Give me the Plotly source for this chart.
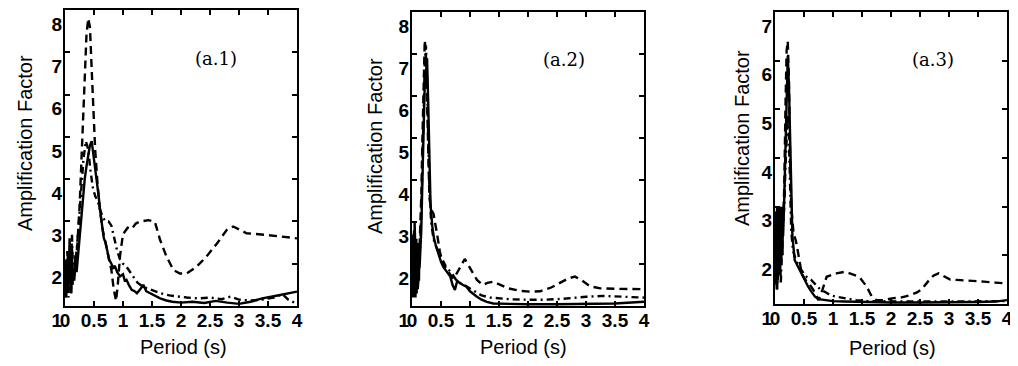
import plotly.graph_objects as go

# ---------------- data ----------------
X_TICKS = [0, 0.5, 1, 1.5, 2, 2.5, 3, 3.5, 4]
X_TICK_TEXT = ["0", "0.5", "1", "1.5", "2", "2.5", "3", "3.5", "4"]
Y_TICKS_A = [1, 2, 3, 4, 5, 6, 7, 8]
Y_TICKS_B = [1, 2, 3, 4, 5, 6, 7]
PANEL_LABELS = ["(a.1)", "(a.2)", "(a.3)"]
X_TITLE = "Period (s)"
Y_TITLE = "Amplification Factor"

# Panel a.1
P1_SOLID_X = [0.00, 0.01, 0.02, 0.03, 0.04, 0.05, 0.06, 0.07, 0.08, 0.09, 0.10, 0.11, 0.12, 0.13, 0.14, 0.16,
              0.18, 0.20, 0.22, 0.25, 0.28,
              0.31, 0.34, 0.37, 0.40, 0.43, 0.46, 0.49, 0.52, 0.55, 0.58, 0.61, 0.64, 0.67, 0.70, 0.73, 0.76,
              0.80, 0.83, 0.86, 0.90, 0.95, 1.00, 1.03, 1.06, 1.10, 1.15, 1.20, 1.24, 1.30, 1.35, 1.40, 1.47,
              1.55, 1.64, 1.75, 1.85, 2.00, 2.20, 2.40, 2.60, 2.80, 3.00, 3.20, 3.40, 3.60, 3.80, 4.00]
P1_SOLID_Y = [1.5, 2.1, 1.2, 2.0, 1.3, 2.2, 1.5, 1.9, 2.6, 1.7, 2.1, 1.3, 2.4, 1.5, 1.9, 1.6,
              2.2, 1.8, 2.1, 2.6, 3.1,
              3.6, 4.0, 4.3, 4.6, 4.8, 4.9, 4.6, 4.2, 3.9, 3.6, 3.2, 2.9, 2.6, 2.5, 2.3, 2.1,
              2.0, 1.9, 1.95, 1.8, 1.7, 1.75, 1.6, 1.62, 1.5, 1.38, 1.35, 1.3, 1.4, 1.5, 1.35, 1.3,
              1.25, 1.18, 1.13, 1.10, 1.08, 1.10, 1.07, 1.12, 1.08, 1.05, 1.10, 1.18, 1.23, 1.28, 1.34]
P1_DASH_X = [0.00, 0.02, 0.04, 0.06, 0.08, 0.10, 0.12, 0.15, 0.18, 0.21, 0.25, 0.29, 0.33, 0.37, 0.40, 0.43,
             0.46, 0.49, 0.52, 0.56, 0.60, 0.65, 0.70, 0.75, 0.80, 0.84, 0.88, 0.91, 0.95, 1.00, 1.08, 1.15,
             1.22, 1.30, 1.44, 1.55, 1.64, 1.75, 1.87, 1.98, 2.10, 2.27, 2.44, 2.62, 2.79, 2.90, 3.13, 3.48,
             3.71, 4.00]
P1_DASH_Y = [1.7, 1.2, 2.3, 1.5, 1.9, 1.3, 2.0, 1.6, 1.9, 2.4, 3.3, 4.6, 6.2, 7.4, 7.8, 7.6,
             6.6, 5.5, 4.7, 3.9, 3.3, 2.8, 2.5, 2.2, 1.85, 1.4, 1.12, 1.5, 2.2, 2.7, 2.85, 2.82,
             2.95, 3.0, 3.03, 2.99, 2.56, 2.17, 1.85, 1.77, 1.77, 1.93, 2.17, 2.48, 2.80, 2.88, 2.72, 2.68,
             2.64, 2.60]
P1_DASHDOT_X = [0.00, 0.02, 0.04, 0.06, 0.08, 0.10, 0.12, 0.14, 0.17, 0.20, 0.24, 0.28, 0.32, 0.36, 0.40,
                0.44, 0.48, 0.52, 0.56, 0.60, 0.65, 0.70, 0.75, 0.80, 0.85, 0.90, 0.95, 1.00, 1.05, 1.10,
                1.18, 1.25, 1.35, 1.50, 1.65, 1.80, 1.95, 2.10, 2.30, 2.50, 2.70, 2.85, 3.00, 3.20, 3.40,
                3.60, 3.75, 3.85, 4.00]
P1_DASHDOT_Y = [1.9, 1.4, 1.8, 1.2, 2.0, 1.5, 2.7, 1.6, 2.0, 2.3, 3.0, 3.8, 4.5, 4.9, 4.7,
                4.2, 3.8, 3.6, 3.5, 3.3, 3.1, 3.0, 3.0, 2.9, 2.6, 2.3, 2.1, 2.0, 1.95, 1.85,
                1.7, 1.55, 1.45, 1.38, 1.3, 1.25, 1.22, 1.2, 1.18, 1.2, 1.16, 1.22, 1.15, 1.13, 1.15,
                1.2, 1.28, 1.15, 1.05]

# Panel a.2
P2_SOLID_X = [0.000, 0.005, 0.010, 0.015, 0.020, 0.025, 0.030, 0.035, 0.040, 0.045, 0.050, 0.055, 0.060,
              0.065, 0.070, 0.075, 0.080, 0.085, 0.090, 0.095, 0.100, 0.105, 0.110, 0.115, 0.120, 0.125,
              0.130, 0.14, 0.16, 0.18,
              0.20, 0.22, 0.24, 0.26, 0.28, 0.30, 0.32, 0.35, 0.38, 0.42, 0.46, 0.50, 0.54, 0.58, 0.62, 0.66,
              0.70, 0.74, 0.78, 0.82, 0.88, 0.94, 1.00, 1.06, 1.12, 1.20, 1.29, 1.40, 1.60, 2.00, 2.50, 3.00,
              3.50, 4.00]
P2_SOLID_Y = [1.6, 2.4, 1.3, 2.7, 1.2, 2.2, 1.5, 2.8, 1.3, 3.0, 1.4, 2.5, 1.2,
              2.3, 1.6, 2.6, 1.3, 2.1, 1.7, 2.4, 1.4, 2.2, 1.8, 2.5, 1.6, 2.1,
              1.9, 2.2, 2.8, 4.0,
              5.5, 6.3, 6.5, 6.9, 5.8, 4.2, 3.4, 2.9, 2.6, 2.4, 2.2, 2.05, 1.93, 1.85, 1.75, 1.7,
              1.5, 1.38, 1.6, 1.55, 1.5, 1.46, 1.35, 1.28, 1.22, 1.15, 1.10, 1.06, 1.05, 1.04, 1.04, 1.05,
              1.06, 1.10]
P2_DASH_X = [0.00, 0.02, 0.04, 0.06, 0.08, 0.10, 0.12, 0.14, 0.16, 0.18, 0.20, 0.22, 0.24, 0.26, 0.28, 0.30,
             0.33, 0.37, 0.43, 0.48, 0.53, 0.60, 0.66, 0.72, 0.78, 0.86, 0.91, 0.96, 1.02, 1.12, 1.22, 1.30,
             1.40, 1.50, 1.66, 1.86, 2.05, 2.21, 2.40, 2.55, 2.70, 2.81, 2.92, 3.07, 3.25, 3.50, 3.80, 4.00]
P2_DASH_Y = [1.8, 1.4, 2.2, 1.3, 1.9, 1.5, 2.0, 2.7, 3.6, 5.0, 6.6, 7.33, 7.0, 6.0, 4.5, 3.6,
             3.3, 3.2, 2.73, 2.3, 2.0, 1.85, 1.75, 1.65, 1.8, 2.02, 2.12, 2.0, 1.85, 1.62, 1.5, 1.55,
             1.58, 1.52, 1.42, 1.36, 1.34, 1.35, 1.44, 1.55, 1.66, 1.70, 1.62, 1.47, 1.42, 1.41, 1.40, 1.40]
P2_DASHDOT_X = [0.00, 0.02, 0.04, 0.06, 0.08, 0.10, 0.12, 0.14, 0.16, 0.18, 0.20, 0.22, 0.24, 0.26, 0.28,
                0.30, 0.33, 0.37, 0.42, 0.47, 0.52, 0.58, 0.64, 0.70, 0.76, 0.82, 0.90, 1.00, 1.10, 1.20,
                1.35, 1.50, 1.70, 2.00, 2.30, 2.60, 2.80, 3.00, 3.30, 3.60, 3.85, 4.00]
P2_DASHDOT_Y = [2.0, 1.5, 2.6, 1.7, 2.3, 1.4, 2.1, 2.4, 3.2, 4.6, 6.0, 6.8, 7.2, 6.4, 5.0,
                3.8, 3.0, 2.6, 2.4, 2.25, 2.1, 1.95, 1.85, 1.75, 1.62, 1.55, 1.5, 1.42, 1.32, 1.25,
                1.2, 1.18, 1.16, 1.15, 1.15, 1.17, 1.2, 1.22, 1.24, 1.22, 1.2, 1.2]

# Panel a.3
P3_SOLID_X = [0.000, 0.005, 0.010, 0.015, 0.020, 0.025, 0.030, 0.035, 0.040, 0.045, 0.050, 0.055, 0.060,
              0.065, 0.070, 0.075, 0.080, 0.085, 0.090, 0.095, 0.100, 0.105, 0.110, 0.115, 0.120, 0.125,
              0.130, 0.135, 0.140, 0.16, 0.18,
              0.20, 0.22, 0.24, 0.26, 0.28, 0.30, 0.34, 0.40, 0.46, 0.52, 0.57, 0.63, 0.69, 0.75, 0.85, 1.00,
              1.20, 1.50, 2.00, 2.50, 3.00, 3.50, 3.80, 4.00]
P3_SOLID_Y = [1.4, 2.8, 1.5, 2.9, 1.7, 2.6, 1.3, 3.0, 1.8, 2.7, 1.5, 2.9, 2.0,
              2.6, 1.6, 3.0, 1.9, 2.8, 1.7, 2.9, 2.1, 2.7, 1.8, 3.0, 2.2, 2.8,
              2.0, 2.9, 2.4, 3.2, 4.3,
              5.6, 6.1, 5.5, 4.2, 3.0, 2.4, 1.9, 1.75, 1.6, 1.45, 1.36, 1.25, 1.15, 1.1, 1.08, 1.06,
              1.05, 1.04, 1.03, 1.03, 1.03, 1.04, 1.05, 1.08]
P3_DASH_X = [0.00, 0.02, 0.04, 0.06, 0.08, 0.10, 0.12, 0.14, 0.16, 0.18, 0.20, 0.22, 0.24, 0.26, 0.28, 0.32,
             0.36, 0.40, 0.46, 0.52, 0.60, 0.66, 0.75, 0.82, 0.89, 1.06, 1.20, 1.29, 1.40, 1.47, 1.58, 1.67,
             1.75, 1.87, 2.04, 2.16, 2.33, 2.45, 2.53, 2.65, 2.73, 2.82, 2.92, 3.02, 3.20, 3.40, 3.60, 3.80,
             4.00]
P3_DASH_Y = [1.6, 2.2, 1.3, 2.5, 1.8, 2.4, 2.0, 2.6, 3.4, 5.0, 6.2, 6.4, 5.6, 4.0, 3.0, 2.45,
             2.3, 2.04, 1.63, 1.5, 1.4, 1.29, 1.08, 1.3, 1.56, 1.63, 1.66, 1.63, 1.58, 1.53, 1.36, 1.15,
             1.08, 1.08, 1.12, 1.13, 1.18, 1.24, 1.30, 1.48, 1.58, 1.63, 1.57, 1.50, 1.49, 1.48, 1.46, 1.44,
             1.42]
P3_DASHDOT_X = [0.00, 0.02, 0.04, 0.06, 0.08, 0.10, 0.12, 0.14, 0.16, 0.18, 0.20, 0.22, 0.24, 0.26, 0.28,
                0.31, 0.36, 0.42, 0.48, 0.55, 0.62, 0.70, 0.78, 0.86, 0.95, 1.05, 1.20, 1.40, 1.60, 2.00,
                2.50, 3.00, 3.50, 4.00]
P3_DASHDOT_Y = [2.0, 1.5, 2.4, 1.8, 2.5, 1.4, 2.3, 2.6, 3.0, 3.8, 4.5, 4.9, 4.4, 3.4, 2.5,
                2.1, 1.9, 1.75, 1.65, 1.55, 1.5, 1.4, 1.3, 1.25, 1.18, 1.15, 1.12, 1.08, 1.06, 1.05,
                1.05, 1.05, 1.05, 1.06]

# ---------------- layout geometry (page pixels) ----------------
OFF = 8  # default page body margin in the browser
W, H = 1018 - OFF, 366 - OFF
PANELS = [
    dict(x0=65, x1=297, y0=10, y1=306, yr=[1, 8], yt=Y_TICKS_A),
    dict(x0=412, x1=644, y0=12, y1=306, yr=[1, 8], yt=Y_TICKS_A),
    dict(x0=775, x1=1007, y0=12, y1=304, yr=[1, 7], yt=Y_TICKS_B),
]
LABEL_POS = [(216, 58), (564, 60), (933, 60)]
YTITLE_POS = [(25, 143), (375, 146), (742, 138)]
XTITLE_POS = [(183, 347), (523, 347), (892, 348)]


def px(x):
    return (x - OFF) / W


def py(y):
    return 1 - (y - OFF) / H


SERIES = [
    [(P1_SOLID_X, P1_SOLID_Y, "solid"), (P1_DASH_X, P1_DASH_Y, "dash"), (P1_DASHDOT_X, P1_DASHDOT_Y, "dashdot")],
    [(P2_SOLID_X, P2_SOLID_Y, "solid"), (P2_DASH_X, P2_DASH_Y, "dash"), (P2_DASHDOT_X, P2_DASHDOT_Y, "dashdot")],
    [(P3_SOLID_X, P3_SOLID_Y, "solid"), (P3_DASH_X, P3_DASH_Y, "dash"), (P3_DASHDOT_X, P3_DASHDOT_Y, "dashdot")],
]
DASHES = {"solid": "solid", "dash": "8px,5px", "dashdot": "7px,4px,2px,4px"}
SANS = "Liberation Sans, Arial, sans-serif"

fig = go.Figure()
layout = dict(
    width=W, height=H, margin=dict(l=0, r=0, t=0, b=0, pad=0),
    paper_bgcolor="white", plot_bgcolor="white", showlegend=False,
    font=dict(family=SANS, color="black", size=19),
)
annotations = []
for i, p in enumerate(PANELS):
    k = "" if i == 0 else str(i + 1)
    xa, ya = "xaxis" + k, "yaxis" + k
    common = dict(showline=True, linecolor="black", linewidth=2, mirror="allticks",
                  ticks="inside", ticklen=5, tickwidth=1.5, tickcolor="black",
                  showgrid=False, zeroline=False, automargin=False,
                  tickfont=dict(family=SANS, size=19, color="black", weight="bold"))
    layout[xa] = dict(domain=[px(p["x0"]), px(p["x1"])], range=[0, 4], anchor="y" + k,
                      tickmode="array", tickvals=X_TICKS, ticktext=X_TICK_TEXT,
                      ticklabelstandoff=-4, **common)
    layout[ya] = dict(domain=[py(p["y1"]), py(p["y0"])], range=p["yr"], anchor="x" + k,
                      tickmode="array", tickvals=p["yt"], ticklabelstandoff=-3,
                      ticklabelshift=14, **common)
    for xs, ys, st in SERIES[i]:
        fig.add_trace(go.Scatter(x=xs, y=ys, mode="lines", xaxis="x" + k, yaxis="y" + k,
                                 line=dict(color="black", width=2.4, dash=DASHES[st])))
    lx, ly = LABEL_POS[i]
    annotations.append(dict(text=PANEL_LABELS[i], x=px(lx), y=py(ly), xref="paper", yref="paper",
                            showarrow=False, xanchor="center", yanchor="middle",
                            font=dict(family="DejaVu Serif, serif", size=18, color="black")))
    tx, ty = YTITLE_POS[i]
    annotations.append(dict(text=Y_TITLE, x=px(tx), y=py(ty), xref="paper", yref="paper",
                            showarrow=False, textangle=-90, xanchor="center", yanchor="middle",
                            font=dict(family=SANS, size=20, color="black")))
    tx, ty = XTITLE_POS[i]
    annotations.append(dict(text=X_TITLE, x=px(tx), y=py(ty), xref="paper", yref="paper",
                            showarrow=False, xanchor="center", yanchor="middle",
                            font=dict(family=SANS, size=20, color="black")))
layout["annotations"] = annotations
fig.update_layout(**layout)
fig.write_html("out.html")
